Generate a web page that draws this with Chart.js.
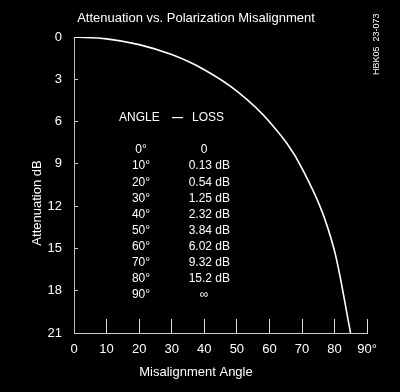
<!DOCTYPE html>
<html>
<head>
<meta charset="utf-8">
<script src="https://cdn.jsdelivr.net/npm/chart.js@4.4.1/dist/chart.umd.min.js"></script>
<style>
  body { margin: 0; background: #000; }
  #wrap { width: 400px; height: 392px; }
</style>
</head>
<body>
<div id="wrap"><canvas id="myChart" width="400" height="392"></canvas></div>
<script>
// curve values (deg -> dB)
var angles = [0, 10, 20, 30, 40, 50, 60, 70, 80, 84.9];
var loss = [0, 0.13, 0.54, 1.25, 2.32, 3.84, 6.02, 9.32, 15.2, 21];

// the little table printed inside the plot
var tableAngles = ['0°', '10°', '20°', '30°', '40°', '50°', '60°', '70°', '80°', '90°'];
var tableLoss = ['0', '0.13 dB', '0.54 dB', '1.25 dB', '2.32 dB', '3.84 dB', '6.02 dB', '9.32 dB', '15.2 dB', '∞'];

var xTicks = [0, 10, 20, 30, 40, 50, 60, 70, 80, 90];
var yTicks = [0, 3, 6, 9, 12, 15, 18, 21];

var FONT = '"Liberation Sans", Arial, sans-serif';

var textPlugin = {
  id: 'texts',
  afterDraw: function(chart) {
    var c = chart.ctx;
    c.save();
    c.fillStyle = '#fff';
    c.font = '13px ' + FONT;
    c.textBaseline = 'middle';

    // title
    c.textAlign = 'center';
    c.fillText('Attenuation vs. Polarization Misalignment', 196, 18);
    // x title
    c.fillText('Misalignment Angle', 196, 372);
    // y title
    c.save();
    c.translate(37, 203);
    c.rotate(-Math.PI / 2);
    c.fillText('Attenuation dB', 0, 0);
    c.restore();

    // stamp
    c.save();
    c.font = '9px ' + FONT;
    c.translate(377, 75);
    c.rotate(-Math.PI / 2);
    c.textAlign = 'left';
    c.fillText('HBK05  23-073', 0, 0);
    c.restore();

    // table
    c.font = '12px ' + FONT;
    c.textAlign = 'left';
    c.fillText('ANGLE', 119, 118);
    c.fillText('LOSS', 192, 118);
    c.fillRect(172, 117, 11, 1.2);
    for (var i = 0; i < tableAngles.length; i++) {
      var y = 150 + i * 16.1;
      c.textAlign = 'center';
      c.fillText(tableAngles[i], 141, y);
      if (tableLoss[i] === '0' || tableLoss[i] === '∞') {
        c.fillText(tableLoss[i], 204, y);
      } else {
        c.textAlign = 'right';
        c.fillText(tableLoss[i], 230, y);
      }
    }
    c.restore();
  }
};

var bg = {
  id: 'bg',
  beforeDraw: function(chart) {
    var c = chart.ctx;
    c.save();
    c.fillStyle = '#000';
    c.fillRect(0, 0, chart.width, chart.height);
    c.restore();
  }
};

var ctx = document.getElementById('myChart');
var chart = new Chart(ctx, {
  type: 'line',
  data: {
    datasets: [{
      data: angles.map(function(a, i) { return { x: a, y: loss[i] }; }),
      borderColor: '#fff',
      borderWidth: 1.6,
      pointRadius: 0,
      cubicInterpolationMode: 'monotone',
      fill: false
    }]
  },
  options: {
    responsive: false,
    animation: false,
    layout: { padding: { top: 37, right: 31, left: 0, bottom: 0 } },
    plugins: { legend: { display: false }, tooltip: { enabled: false } },
    scales: {
      x: {
        type: 'linear',
        min: 0,
        max: 90,
        afterBuildTicks: function(s) { s.ticks = xTicks.map(function(v) { return { value: v }; }); },
        afterFit: function(s) { s.height = 59; },
        ticks: {
          color: '#fff',
          font: { size: 13, family: FONT },
          padding: 23,
          maxRotation: 0,
          autoSkip: false,
          callback: function(v) { return v === 90 ? '90°' : v; }
        },
        grid: { drawOnChartArea: false, tickLength: -14, color: '#ddd', lineWidth: 1 },
        border: { color: '#ccc', width: 1 }
      },
      y: {
        type: 'linear',
        reverse: true,
        min: 0,
        max: 21,
        afterBuildTicks: function(s) { s.ticks = yTicks.map(function(v) { return { value: v }; }); },
        afterFit: function(s) { s.width = 74; },
        ticks: {
          color: '#fff',
          font: { size: 13, family: FONT },
          padding: 16,
          autoSkip: false
        },
        grid: { drawOnChartArea: false, tickLength: -4, color: '#ccc', lineWidth: 1 },
        border: { color: '#bbb', width: 1 }
      }
    }
  },
  plugins: [bg, textPlugin]
});
</script>
</body>
</html>
